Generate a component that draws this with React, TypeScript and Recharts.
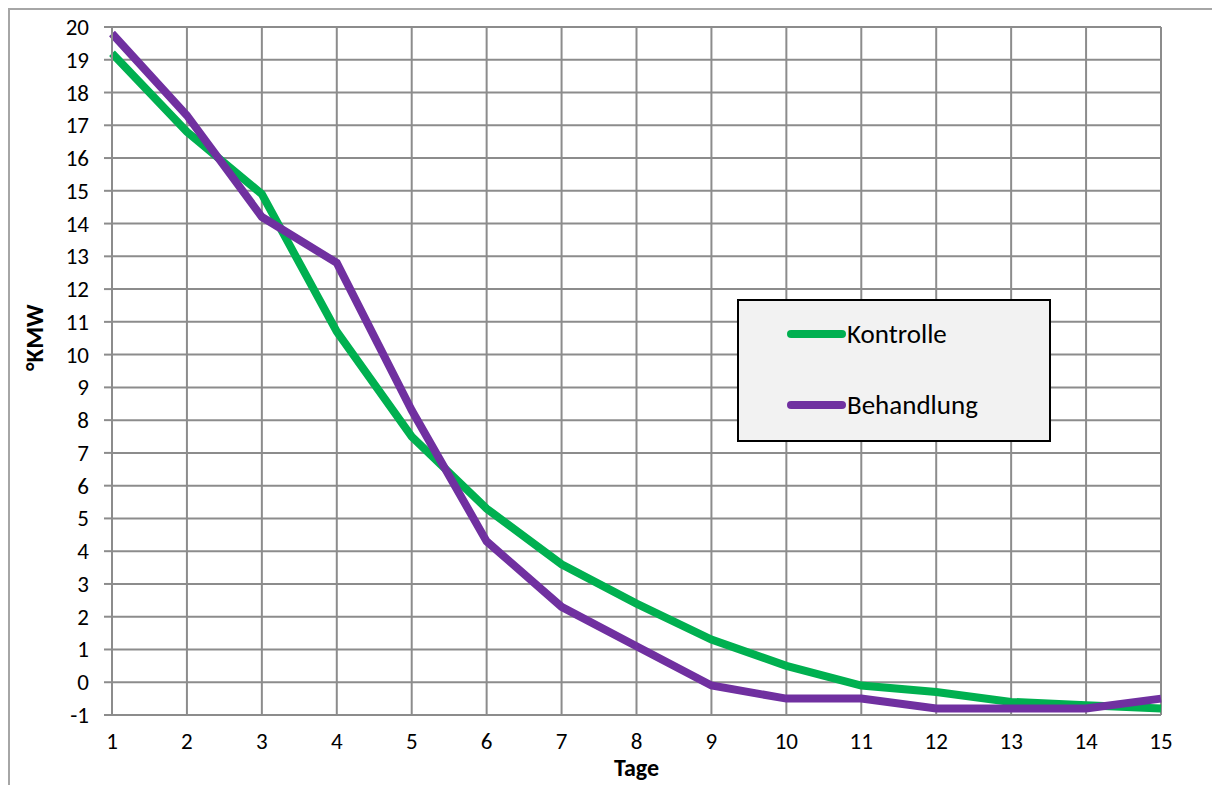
import { LineChart, Line, XAxis, YAxis, CartesianGrid } from "recharts";

const days = [1, 2, 3, 4, 5, 6, 7, 8, 9, 10, 11, 12, 13, 14, 15];
const kontrolle = [19.2, 16.8, 14.9, 10.7, 7.5, 5.3, 3.6, 2.4, 1.3, 0.5, -0.1, -0.3, -0.6, -0.7, -0.8];
const behandlung = [19.8, 17.3, 14.2, 12.8, 8.3, 4.3, 2.3, 1.1, -0.1, -0.5, -0.5, -0.8, -0.8, -0.8, -0.5];
const yTicks = [-1, 0, 1, 2, 3, 4, 5, 6, 7, 8, 9, 10, 11, 12, 13, 14, 15, 16, 17, 18, 19, 20];
const seriesNames = ["Kontrolle", "Behandlung"];

const data = days.map((d, i) => ({ day: d, Kontrolle: kontrolle[i], Behandlung: behandlung[i] }));

const GREEN = "#00b050";
const PURPLE = "#7030a0";
const GRID = "#8c8c8c";
const FONT = "Carlito, Lato, 'Open Sans', sans-serif";
const colors = [GREEN, PURPLE];

// custom ticks so the font size sticks
const XTick = ({ x, y, payload }: any) => (
  <text x={x} y={y + 34} textAnchor="middle" fontSize={23} fontFamily={FONT} fill="#000">
    {payload.value}
  </text>
);

const YTick = ({ x, y, payload }: any) => (
  <text x={x - 7} y={y + 8} textAnchor="end" fontSize={23} fontFamily={FONT} fill="#000">
    {payload.value}
  </text>
);

const LegendBox = () => (
  <div
    style={{
      position: "absolute",
      left: 737,
      top: 299,
      width: 314,
      height: 143,
      background: "#f2f2f2",
      border: "2px solid #000",
      boxSizing: "border-box",
      fontFamily: FONT,
      fontSize: 27,
      color: "#000",
    }}
  >
    {seriesNames.map((name, i) => (
      <div
        key={name}
        style={{ position: "absolute", left: 46, top: i === 0 ? 18 : 89, display: "flex", alignItems: "center" }}
      >
        <svg width={62} height={12}>
          <line x1={6} y1={6} x2={57} y2={6} stroke={colors[i]} strokeWidth={8} strokeLinecap="round" />
        </svg>
        <span style={{ lineHeight: "30px" }}>{name}</span>
      </div>
    ))}
  </div>
);

export default function App() {
  return (
    <div style={{ position: "absolute", left: 0, top: 0, width: 1212, height: 785, background: "#fff", overflow: "hidden" }}>
      <div
        style={{
          position: "absolute",
          left: 8,
          top: 8,
          width: 1210,
          height: 800,
          borderTop: "2px solid #a6a6a6",
          borderLeft: "2px solid #a6a6a6",
        }}
      />
      <LineChart
        width={1212}
        height={785}
        data={data}
        margin={{ top: 27, right: 51, bottom: 20, left: 0 }}
        style={{ position: "absolute", left: 0, top: 0, fontFamily: FONT }}
      >
        <CartesianGrid stroke={GRID} strokeWidth={2} />
        <XAxis
          dataKey="day"
          type="number"
          domain={[1, 15]}
          ticks={days}
          height={50}
          stroke={GRID}
          strokeWidth={2}
          tickSize={0}
          tickMargin={0}
          tick={<XTick />}
          label={{ value: "Tage", position: "insideBottom", offset: -11, fill: "#000", fontSize: 24, fontWeight: "bold" }}
        />
        <YAxis
          type="number"
          domain={[-1, 20]}
          ticks={yTicks}
          interval={0}
          width={112}
          stroke={GRID}
          strokeWidth={2}
          tickSize={8}
          tickMargin={8}
          tick={<YTick />}
          label={{ value: "°KMW", angle: -90, position: "insideLeft", offset: 34, fill: "#000", fontSize: 25, fontWeight: "bold" }}
        />
        <Line type="linear" dataKey="Kontrolle" stroke={GREEN} strokeWidth={8} dot={false} isAnimationActive={false} />
        <Line type="linear" dataKey="Behandlung" stroke={PURPLE} strokeWidth={8} dot={false} isAnimationActive={false} />
      </LineChart>
      <LegendBox />
    </div>
  );
}
